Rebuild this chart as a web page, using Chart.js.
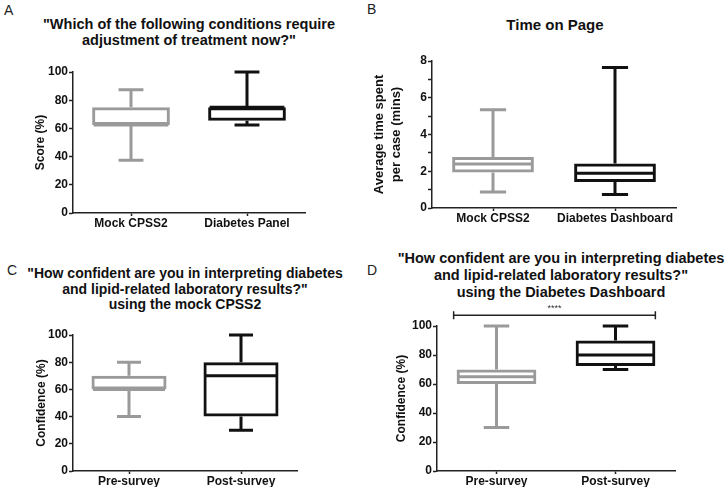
<!DOCTYPE html>
<html>
<head>
<meta charset="utf-8">
<script src="https://cdn.jsdelivr.net/npm/chart.js@4.4.0/dist/chart.umd.min.js"></script>
<style>
body { margin: 0; background: #fff; }
#page { position: relative; width: 727px; height: 490px; overflow: hidden; font-family: 'Liberation Sans', Arial, sans-serif; }
.panel { position: absolute; }
.letter { position: absolute; font-size: 14px; line-height: 16px; color: #222; }
.title { position: absolute; font-weight: bold; text-align: center; color: #111; white-space: nowrap; transform: translateX(-50%); }
</style>
</head>
<body>
<div id="page">
  <div class="letter" style="left:4px;top:2px">A</div>
  <div class="letter" style="left:367px;top:1px">B</div>
  <div class="letter" style="left:7px;top:262px">C</div>
  <div class="letter" style="left:367px;top:262px">D</div>

  <div class="title" style="left:189px;top:16px;font-size:14.5px;line-height:16px">"Which of the following conditions require<br>adjustment of treatment now?"</div>
  <div class="title" style="left:555px;top:17px;font-size:15px;line-height:16px">Time on Page</div>
  <div class="title" style="left:185px;top:266px;font-size:14px;line-height:15.5px">"How confident are you in interpreting diabetes<br>and lipid-related laboratory results?"<br>using the mock CPSS2</div>
  <div class="title" style="left:561px;top:250px;font-size:14.5px;line-height:17px">"How confident are you in interpreting diabetes<br>and lipid-related laboratory results?"<br>using the Diabetes Dashboard</div>

  <canvas id="chartA" class="panel" width="364" height="245" style="left:0;top:0"></canvas>
  <canvas id="chartB" class="panel" width="363" height="245" style="left:364px;top:0"></canvas>
  <canvas id="chartC" class="panel" width="364" height="245" style="left:0;top:245px"></canvas>
  <canvas id="chartD" class="panel" width="363" height="245" style="left:364px;top:245px"></canvas>
</div>

<script>
// box plot values (min, q1, median, q3, max)
const labelsA = ['Mock CPSS2', 'Diabetes Panel'];
const minA = [37.5, 62.5];
const q1A = [62.5, 65.5];
const medA = [62.5, 75];
const q3A = [75, 75];
const maxA = [87.5, 100];

const labelsB = ['Mock CPSS2', 'Diabetes Dashboard'];
const minB = [0.87, 0.73];
const q1B = [1.93, 1.42];
const medB = [2.4, 1.89];
const q3B = [2.77, 2.42];
const maxB = [5.35, 7.65];

const labelsC = ['Pre-survey', 'Post-survey'];
const minC = [40, 30];
const q1C = [60, 40];
const medC = [60, 70];
const q3C = [70, 80];
const maxC = [80, 100];

const labelsD = ['Pre-survey', 'Post-survey'];
const minD = [30, 70];
const q1D = [60, 72.5];
const medD = [65, 80];
const q3D = [70, 90];
const maxD = [100, 100];
const sigLevelD = 107.5;
const sigTextD = '****';

const boxColors = ['#9a9a9a', '#111111'];

Chart.defaults.font.family = "'Liberation Sans', Arial, sans-serif";
Chart.defaults.font.size = 12;
Chart.defaults.font.weight = 'bold';
Chart.defaults.color = '#111';

// whiskers, caps and median lines drawn on top of the floating bars
function whiskers(mins, meds, maxs) {
    return {
        id: 'whiskers',
        afterDatasetsDraw(chart) {
            const ctx = chart.ctx;
            const y = chart.scales.y;
            const meta = chart.getDatasetMeta(0);
            meta.data.forEach((bar, i) => {
                const x = bar.x;
                const half = bar.width / 2;
                const cap = bar.width * 0.16;
                const top = Math.min(bar.y, bar.base);
                const bottom = Math.max(bar.y, bar.base);
                const yMax = y.getPixelForValue(maxs[i]);
                const yMin = y.getPixelForValue(mins[i]);
                const yMed = y.getPixelForValue(meds[i]);
                ctx.save();
                ctx.strokeStyle = boxColors[i];
                ctx.lineWidth = 3;
                ctx.beginPath();
                ctx.moveTo(x, top); ctx.lineTo(x, yMax);
                ctx.moveTo(x - cap, yMax); ctx.lineTo(x + cap, yMax);
                ctx.moveTo(x, bottom); ctx.lineTo(x, yMin);
                ctx.moveTo(x - cap, yMin); ctx.lineTo(x + cap, yMin);
                ctx.moveTo(x - half + 1.5, yMed); ctx.lineTo(x + half - 1.5, yMed);
                ctx.stroke();
                ctx.restore();
            });
        }
    };
}

// significance bar above panel D
const sigBar = {
    id: 'sigBar',
    afterDraw(chart) {
        const ctx = chart.ctx;
        const meta = chart.getDatasetMeta(0);
        const first = meta.data[0], last = meta.data[meta.data.length - 1];
        const x1 = first.x - first.width / 2 - 3;
        const x2 = last.x + last.width / 2;
        const yy = chart.scales.y.getPixelForValue(sigLevelD);
        ctx.save();
        ctx.strokeStyle = '#222';
        ctx.lineWidth = 1.5;
        ctx.beginPath();
        ctx.moveTo(x1, yy); ctx.lineTo(x2, yy);
        ctx.moveTo(x1, yy - 4); ctx.lineTo(x1, yy + 4);
        ctx.moveTo(x2, yy - 4); ctx.lineTo(x2, yy + 4);
        ctx.stroke();
        ctx.fillStyle = '#333';
        ctx.font = "9px 'Liberation Sans', Arial, sans-serif";
        ctx.textAlign = 'center';
        ctx.textBaseline = 'bottom';
        ctx.fillText(sigTextD, (x1 + x2) / 2, yy - 2);
        ctx.restore();
    }
};

function makeBox(id, cfg) {
    const canvas = document.getElementById(id);
    const area = cfg.area;
    const xh = 16;
    const plugins = [whiskers(cfg.min, cfg.med, cfg.max)];
    if (cfg.sig) plugins.push(sigBar);
    return new Chart(canvas, {
        type: 'bar',
        data: {
            labels: cfg.labels,
            datasets: [{
                data: cfg.q1.map((v, i) => [v, cfg.q3[i]]),
                backgroundColor: 'rgba(255,255,255,0)',
                borderColor: boxColors,
                borderWidth: 3,
                borderSkipped: false,
                barPercentage: 0.67,
                categoryPercentage: 1
            }]
        },
        options: {
            responsive: false,
            animation: false,
            events: [],
            layout: {
                padding: {
                    left: 0,
                    top: area.top,
                    right: canvas.width - area.right,
                    bottom: canvas.height - area.bottom - xh
                }
            },
            plugins: {
                legend: { display: false },
                tooltip: { enabled: false }
            },
            scales: {
                x: {
                    grid: { drawOnChartArea: false, offset: false, tickLength: 3, color: '#222', tickWidth: 1.5 },
                    border: { color: '#222', width: 1.5 },
                    ticks: {
                        padding: 0,
                        color: '#111',
                        maxRotation: 0,
                        minRotation: 0,
                        autoSkip: false,
                        font: { size: 12, weight: 'bold' }
                    },
                    afterFit: s => { s.height = xh; }
                },
                y: {
                    min: 0,
                    max: cfg.yMax,
                    grid: { drawOnChartArea: false, tickLength: 4, color: '#222', tickWidth: 1.5 },
                    border: { color: '#222', width: 1.5 },
                    ticks: {
                        stepSize: cfg.step,
                        padding: 1,
                        color: '#111',
                        font: { size: 12, weight: 'bold' },
                        callback: v => (v % cfg.labelEvery === 0 ? v : '')
                    },
                    title: {
                        display: true,
                        text: cfg.yTitle,
                        color: '#111',
                        font: { size: cfg.yTitleSize, weight: 'bold', lineHeight: 1.3 },
                        padding: { top: cfg.yTitlePad, bottom: 0 }
                    },
                    afterFit: s => { s.width = area.left; }
                }
            }
        },
        plugins: plugins
    });
}

makeBox('chartA', {
    labels: labelsA, min: minA, q1: q1A, med: medA, q3: q3A, max: maxA,
    yMax: 100, step: 10, labelEvery: 20,
    yTitle: 'Score (%)', yTitleSize: 12, yTitlePad: 33,
    area: { left: 73, right: 305, top: 72, bottom: 213 }
});

makeBox('chartB', {
    labels: labelsB, min: minB, q1: q1B, med: medB, q3: q3B, max: maxB,
    yMax: 8, step: 1, labelEvery: 2,
    yTitle: ['Average time spent', 'per case (mins)'], yTitleSize: 13, yTitlePad: 7,
    area: { left: 68, right: 312, top: 61, bottom: 208 }
});

makeBox('chartC', {
    labels: labelsC, min: minC, q1: q1C, med: medC, q3: q3C, max: maxC,
    yMax: 100, step: 10, labelEvery: 20,
    yTitle: 'Confidence (%)', yTitleSize: 12, yTitlePad: 34,
    area: { left: 73, right: 297, top: 90, bottom: 226 }
});

makeBox('chartD', {
    labels: labelsD, min: minD, q1: q1D, med: medD, q3: q3D, max: maxD,
    yMax: 100, step: 10, labelEvery: 20,
    yTitle: 'Confidence (%)', yTitleSize: 12, yTitlePad: 30,
    area: { left: 73, right: 311, top: 81, bottom: 226 },
    sig: true
});
</script>
</body>
</html>
